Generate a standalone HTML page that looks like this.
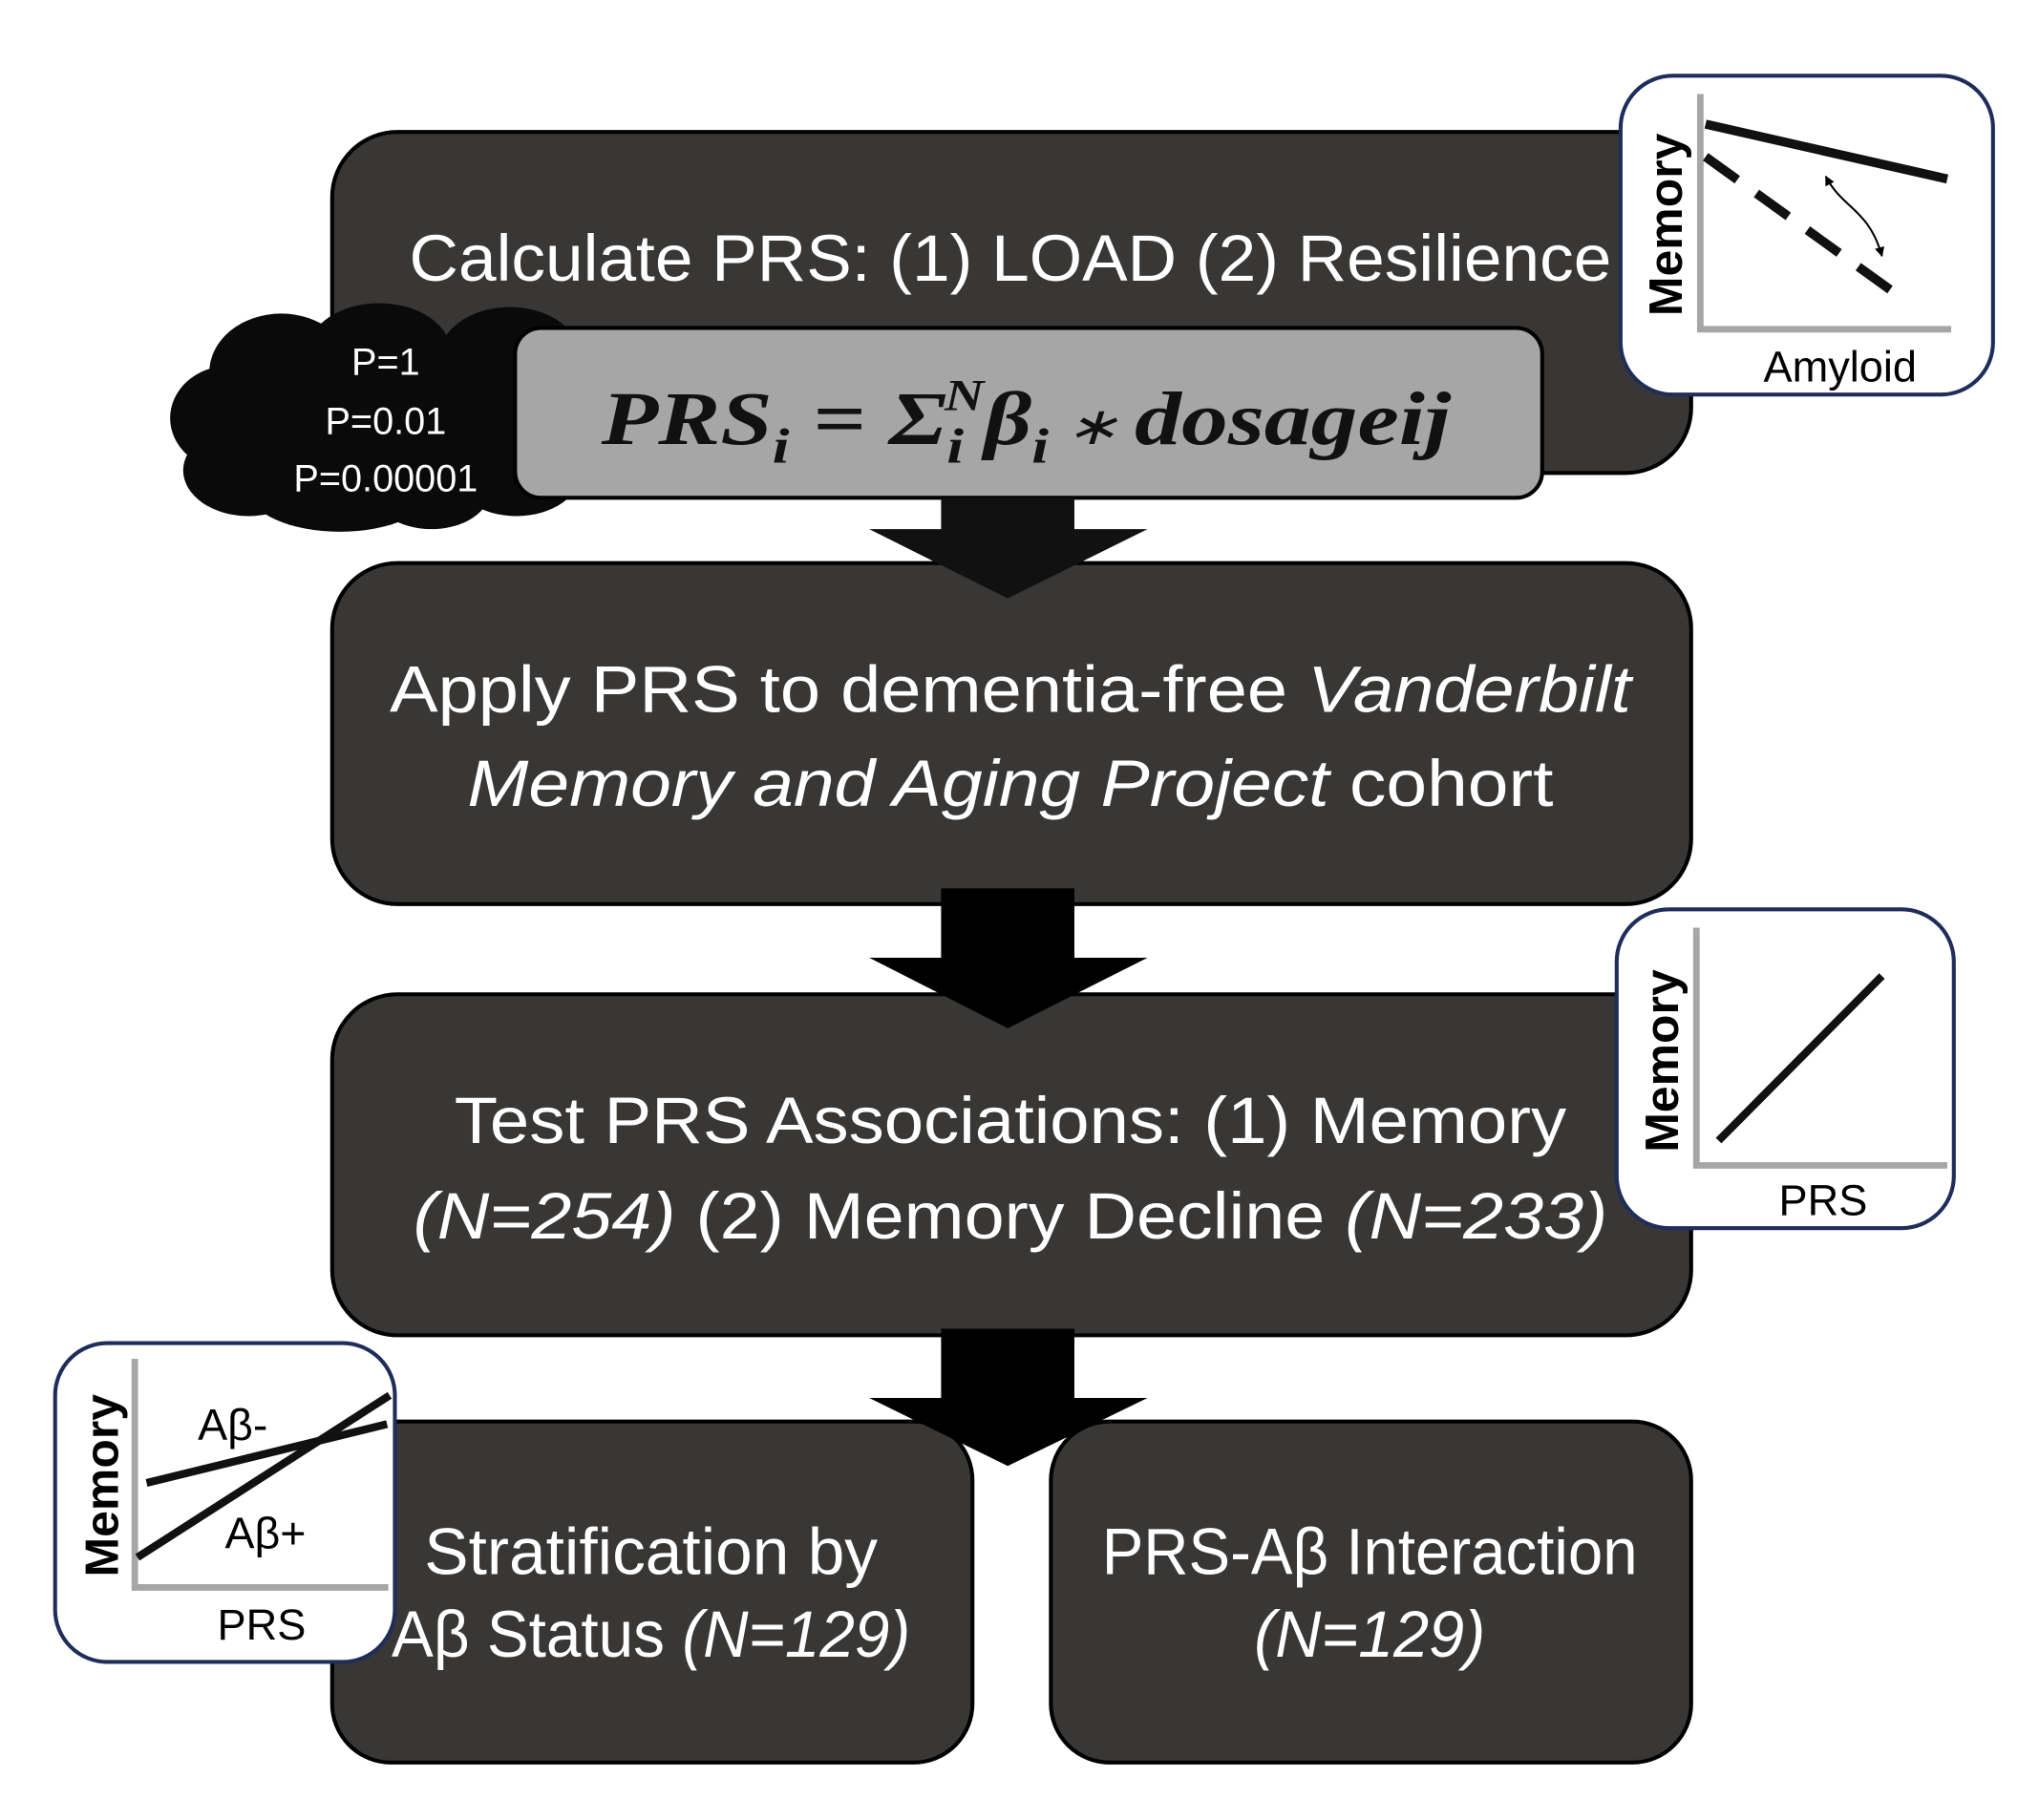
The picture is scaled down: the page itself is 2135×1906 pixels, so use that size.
<!DOCTYPE html>
<html><head><meta charset="utf-8"><style>html,body{margin:0;padding:0;background:#fff}svg{display:block}</style></head>
<body>
<svg width="2135" height="1906" viewBox="0 0 1560 1393" xmlns="http://www.w3.org/2000/svg" font-family="Liberation Sans, sans-serif">
<rect width="1560" height="1393" fill="#fff"/>
<defs>
<marker id="ah" viewBox="0 0 10 10" refX="9" refY="5" markerWidth="5" markerHeight="5" orient="auto-start-reverse"><path d="M0,0L10,5L0,10z" fill="#000"/></marker>
</defs>
<!-- Box1 -->
<rect x="254" y="101" width="1040" height="261" rx="50" fill="#383735" stroke="#000" stroke-width="3"/>
<text x="773" y="215" fill="#fff" font-size="50" text-anchor="middle" textLength="920" lengthAdjust="spacingAndGlyphs">Calculate PRS: (1) LOAD (2) Resilience</text>
<!-- cloud -->
<g fill="#0a0a0a">
<ellipse cx="215" cy="285" rx="55" ry="45"/><ellipse cx="290" cy="270" rx="55" ry="38"/><ellipse cx="390" cy="275" rx="55" ry="40"/>
<ellipse cx="175" cy="320" rx="45" ry="40"/><ellipse cx="190" cy="360" rx="50" ry="35"/><ellipse cx="260" cy="375" rx="70" ry="32"/>
<ellipse cx="330" cy="375" rx="45" ry="30"/><ellipse cx="395" cy="360" rx="50" ry="35"/><rect x="170" y="260" width="260" height="120"/>
</g>
<text x="295" y="287" fill="#fff" font-size="29" text-anchor="middle">P=1</text>
<text x="295" y="332" fill="#fff" font-size="29" text-anchor="middle">P=0.01</text>
<text x="295" y="376" fill="#fff" font-size="29" text-anchor="middle">P=0.00001</text>
<!-- gray formula -->
<rect x="394" y="251" width="786" height="130" rx="20" fill="#a6a6a6" stroke="#000" stroke-width="3"/>
<text x="785" y="340" font-family="Liberation Serif, serif" font-weight="bold" font-style="italic" font-size="58" text-anchor="middle" fill="#111" textLength="650" lengthAdjust="spacingAndGlyphs">PRS<tspan font-size="38" dy="14">i</tspan><tspan dy="-14"> = Σ</tspan><tspan font-size="38" dy="14">i</tspan><tspan font-size="34" dx="-12" dy="-40">N</tspan><tspan dy="26">β</tspan><tspan font-size="38" dy="14">i</tspan><tspan dy="-14" font-size="40" font-weight="normal"> ∗ </tspan><tspan>dosageij</tspan></text>
<!-- Box2 -->
<rect x="254" y="431" width="1040" height="261" rx="50" fill="#383735" stroke="#000" stroke-width="3"/>
<!-- arrow1 -->
<path d="M720,381H822V405H878L771,458L665,405H720Z" fill="#111"/>
<text x="773" y="545" fill="#fff" font-size="50" text-anchor="middle" textLength="950" lengthAdjust="spacingAndGlyphs">Apply PRS to dementia-free <tspan font-style="italic">Vanderbilt</tspan></text>
<text x="773" y="617" fill="#fff" font-size="50" text-anchor="middle" textLength="831" lengthAdjust="spacingAndGlyphs"><tspan font-style="italic">Memory and Aging Project</tspan> cohort</text>
<!-- Box3 -->
<rect x="254" y="761" width="1040" height="261" rx="50" fill="#383735" stroke="#000" stroke-width="3"/>
<path d="M720,680H822V733H878L771,787L665,733H720Z" fill="#000"/>
<text x="773" y="875" fill="#fff" font-size="50" text-anchor="middle" textLength="851" lengthAdjust="spacingAndGlyphs">Test PRS Associations: (1) Memory</text>
<text x="773" y="948" fill="#fff" font-size="50" text-anchor="middle" textLength="914" lengthAdjust="spacingAndGlyphs"><tspan font-style="italic">(N=254)</tspan> (2) Memory Decline <tspan font-style="italic">(N=233)</tspan></text>
<!-- Box4/5 -->
<rect x="254" y="1088" width="490" height="261" rx="45" fill="#383735" stroke="#000" stroke-width="3"/>
<rect x="804" y="1088" width="490" height="261" rx="45" fill="#383735" stroke="#000" stroke-width="3"/>
<!-- arrow3 -->
<path d="M720,1017H822V1070H878L771,1122L665,1070H720Z" fill="#000"/>
<text x="498" y="1205" fill="#fff" font-size="50" text-anchor="middle" textLength="347" lengthAdjust="spacingAndGlyphs">Stratification by</text>
<text x="498" y="1268" fill="#fff" font-size="50" text-anchor="middle" textLength="397" lengthAdjust="spacingAndGlyphs">Aβ Status <tspan font-style="italic">(N=129)</tspan></text>
<text x="1048" y="1205" fill="#fff" font-size="50" text-anchor="middle" textLength="410" lengthAdjust="spacingAndGlyphs">PRS-Aβ Interaction</text>
<text x="1048" y="1268" fill="#fff" font-size="50" text-anchor="middle" font-style="italic" textLength="177" lengthAdjust="spacingAndGlyphs">(N=129)</text>
<!-- Inset1 -->
<rect x="1240" y="58" width="285" height="244" rx="40" fill="#fff" stroke="#1f2d5a" stroke-width="3"/>
<path d="M1301,72V252H1493" fill="none" stroke="#a6a6a6" stroke-width="5"/>
<text transform="translate(1287,172) rotate(-90)" font-size="36" font-weight="bold" text-anchor="middle" fill="#000" textLength="140" lengthAdjust="spacingAndGlyphs">Memory</text>
<text x="1408" y="292" font-size="33" text-anchor="middle" fill="#000">Amyloid</text>
<line x1="1305" y1="95" x2="1490" y2="137" stroke="#111" stroke-width="7"/>
<line x1="1305" y1="120" x2="1455" y2="228" stroke="#111" stroke-width="7" stroke-dasharray="30,18"/>
<path d="M1397,135C1410,160 1430,160 1440,196" fill="none" stroke="#000" stroke-width="1.5" marker-start="url(#ah)" marker-end="url(#ah)"/>
<!-- Inset2 -->
<rect x="1237" y="696" width="258" height="244" rx="40" fill="#fff" stroke="#1f2d5a" stroke-width="3"/>
<path d="M1298,710V892H1490" fill="none" stroke="#a6a6a6" stroke-width="5"/>
<text transform="translate(1284,812) rotate(-90)" font-size="36" font-weight="bold" text-anchor="middle" fill="#000" textLength="140" lengthAdjust="spacingAndGlyphs">Memory</text>
<text x="1395" y="930" font-size="33" text-anchor="middle" fill="#000">PRS</text>
<line x1="1315" y1="873" x2="1440" y2="747" stroke="#111" stroke-width="6"/>
<!-- Inset3 -->
<rect x="42" y="1028" width="260" height="244" rx="40" fill="#fff" stroke="#1f2d5a" stroke-width="3"/>
<path d="M103,1040V1215H297" fill="none" stroke="#a6a6a6" stroke-width="5"/>
<text transform="translate(90,1137) rotate(-90)" font-size="36" font-weight="bold" text-anchor="middle" fill="#000" textLength="140" lengthAdjust="spacingAndGlyphs">Memory</text>
<text x="200" y="1255" font-size="33" text-anchor="middle" fill="#000">PRS</text>
<line x1="105" y1="1192" x2="298" y2="1068" stroke="#111" stroke-width="6"/>
<line x1="112" y1="1135" x2="296" y2="1090" stroke="#111" stroke-width="6"/>
<text x="178" y="1102" font-size="34" text-anchor="middle" fill="#000">Aβ-</text>
<text x="203" y="1185" font-size="34" text-anchor="middle" fill="#000">Aβ+</text>
</svg>
</body></html>
